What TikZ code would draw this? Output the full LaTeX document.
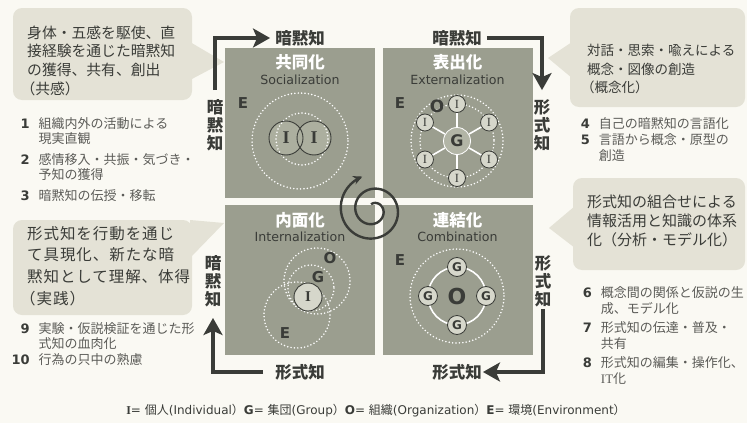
\documentclass[tikz,border=0pt]{standalone}
\usepackage{fontspec}
\setmainfont{DejaVu Sans}
\newfontfamily\jp{Noto Sans CJK JP}
\newfontfamily\lat{DejaVu Sans}
\newfontfamily\ser{Liberation Serif}
\usetikzlibrary{arrows.meta,positioning}

\definecolor{paper}{RGB}{250,249,243}
\definecolor{quadgray}{RGB}{155,158,143}
\definecolor{callgray}{RGB}{228,226,214}
\definecolor{ink}{RGB}{58,60,56}
\definecolor{listgray}{RGB}{92,92,88}
\definecolor{persfill}{RGB}{172,175,159}
\definecolor{lightfill}{RGB}{214,215,203}
\definecolor{hubfill}{RGB}{178,181,166}

\newcommand{\itemno}[1]{{\lat\bfseries\color{ink}#1}}
\newcommand{\lparen}{\kern-0.45em（}

\tikzset{
  quad/.style={fill=quadgray, minimum width=150pt, minimum height=150pt, inner sep=0pt},
  qtitle/.style={text=white, font=\jp\bfseries\fontsize{16.5}{18}\selectfont},
  qsub/.style={text=ink, font=\lat\fontsize{12.6}{14}\selectfont},
  letter/.style={text=ink, font=\lat\bfseries\fontsize{15}{15}\selectfont, inner sep=0pt},
  ring/.style={white, line width=1.7pt, dash pattern=on 0pt off 3.4pt, line cap=round},
  pers/.style={circle, draw=ink, line width=0.9pt, minimum size=34pt, inner sep=0pt, text=ink,
    font=\ser\bfseries\fontsize{18}{18}\selectfont},
  small/.style={circle, draw=ink, line width=0.8pt, fill=lightfill, minimum size=17pt, inner sep=0pt,
    text=ink, font=\ser\fontsize{12.5}{12.5}\selectfont},
  grp/.style={circle, draw=ink, line width=0.8pt, fill=lightfill, minimum size=19pt, inner sep=0pt,
    text=ink, font=\lat\bfseries\fontsize{12}{12}\selectfont},
  hub/.style={circle, draw=white, line width=0.8pt, fill=hubfill, minimum size=27pt, inner sep=0pt,
    text=ink, font=\lat\bfseries\fontsize{16}{16}\selectfont},
  spoke/.style={white, line width=1.6pt},
  flow/.style={ink, line width=4pt, -{Stealth[length=17pt, width=19pt, inset=4pt]}},
  knowh/.style={text=ink, font=\jp\bfseries\fontsize{16.5}{18}\selectfont, inner sep=0pt},
  knowv/.style={knowh, align=center},
  callout/.style={fill=callgray, rounded corners=9pt},
  calltext/.style={anchor=north west, inner sep=0pt, align=left, text=ink},
  listtext/.style={anchor=north west, inner sep=0pt, text=listgray},
}

\begin{document}
\begin{tikzpicture}[x=1pt, y=-1pt]
  \useasboundingbox (0,0) rectangle (747,423);
  \fill[paper] (0,0) rectangle (747,423);

  % callout boxes
  \fill[callout] (13,8) rectangle (192,100);
  \fill[callgray] (190,42) -- (224,62) -- (190,80) -- cycle;
  \fill[callout] (13,220) rectangle (192,315);
  \fill[callgray] (190,220) -- (224,223) -- (190,258) -- cycle;
  \fill[callout] (570,8) rectangle (745,107);
  \fill[callgray] (572,42) -- (548,58) -- (572,78) -- cycle;
  \fill[callout] (573,178) rectangle (745,270);
  \fill[callgray] (575,206) -- (549,228) -- (575,248) -- cycle;

  \node[calltext, font=\jp\fontsize{14.8}{18.7}\selectfont] (soc-note) at (27,25.3)
    {身体・五感を駆使、直\\接経験を通じた暗黙知\\の獲得、共有、創出\\\lparen 共感）};
  \node[calltext, font=\jp\fontsize{15.5}{21.7}\selectfont\addfontfeature{LetterSpace=6}] (int-note) at (27,226)
    {形式知を行動を通じ\\て具現化、新たな暗\\黙知として理解、体得\\\lparen 実践）};
  \node[calltext, font=\jp\fontsize{13.5}{18.5}\selectfont] (ext-note) at (587,44)
    {対話・思索・喩えによる\\概念・図像の創造\\\lparen 概念化）};
  \node[calltext, font=\jp\fontsize{15}{19}\selectfont] (com-note) at (587,195)
    {形式知の組合せによる\\情報活用と知識の体系\\化（分析・モデル化）};

  % lists
  \node[listtext, font=\jp\fontsize{13}{15}\selectfont] (soc-list) at (20.5,117.4) {%
    \begin{tabular}{@{}r@{\hspace{9pt}}l@{}}
      \itemno{1} & 組織内外の活動による\\
                 & 現実直観\\[5pt]
      \itemno{2} & 感情移入・共振・気づき・\\
                 & 予知の獲得\\[5pt]
      \itemno{3} & 暗黙知の伝授・移転
    \end{tabular}};
  \node[listtext, font=\jp\fontsize{13}{16}\selectfont] (ext-list) at (580.7,117.4) {%
    \begin{tabular}{@{}r@{\hspace{9pt}}l@{}}
      \itemno{4} & 自己の暗黙知の言語化\\
      \itemno{5} & 言語から概念・原型の\\
                 & 創造
    \end{tabular}};
  \node[listtext, font=\jp\fontsize{13}{16}\selectfont] (com-list) at (582.7,286.4) {%
    \begin{tabular}{@{}r@{\hspace{9pt}}l@{}}
      \itemno{6} & 概念間の関係と仮説の生\\
                 & 成、モデル化\\[3pt]
      \itemno{7} & 形式知の伝達・普及・\\
                 & 共有\\[3pt]
      \itemno{8} & 形式知の編集・操作化、\\
                 & {\ser IT}化
    \end{tabular}};
  \node[listtext, font=\jp\fontsize{13}{14.5}\selectfont] (int-list) at (11.4,322.4) {%
    \begin{tabular}{@{}r@{\hspace{9pt}}l@{}}
      \itemno{9}  & 実験・仮説検証を通じた形\\
                  & 式知の血肉化\\
      \itemno{10} & 行為の只中の熟慮
    \end{tabular}};

  % quadrants
  \node[quad] (soc) at (300,123) {};
  \node[quad] (ext) at (457.5,123) {};
  \node[quad] (int) at (300,280) {};
  \node[quad] (com) at (457.5,280) {};

  \node[qtitle] (soc-t) at (300,62) {共同化};
  \node[qsub] (soc-s) at (300,80) {Socialization};
  \node[qtitle] (ext-t) at (457.5,62) {表出化};
  \node[qsub] (ext-s) at (457.5,80) {Externalization};
  \node[qtitle] (int-t) at (300,220) {内面化};
  \node[qsub] (int-s) at (300,237) {Internalization};
  \node[qtitle] (com-t) at (457.5,220) {連結化};
  \node[qsub] (com-s) at (457.5,237) {Combination};

  % socialization
  \node[letter] (soc-e) at (243,103) {E};
  \fill[persfill] (286,138) circle (17) (314,138) circle (17);
  \draw[ring] (300,141) circle (48);
  \draw[ring] (302,139) circle (26);
  \node[pers] (soc-i1) at (286,138) {I};
  \node[pers] (soc-i2) at (314,138) {I};

  % externalization
  \node[letter] (ext-e) at (400,103) {E};
  \draw[ring] (457,141) circle (46);
  \draw[ring] (457,141) circle (37);
  \node[hub] (ext-g) at (457,141) {G};
  \foreach \a [count=\k] in {-90,-30,30,90,150,210}
    \node[small] (ext-i\k) at ([shift={(\a:37)}]ext-g.center) {I};
  \foreach \k in {1,...,6}
    \draw[spoke] (ext-g) -- (ext-i\k);
  \node[letter, font=\lat\bfseries\fontsize{17}{17}\selectfont] (ext-o) at (437,106) {O};

  % combination
  \node[letter] (com-e) at (400,260) {E};
  \coordinate (com-c) at (457,296);
  \draw[ring] (com-c) circle (47);
  \draw[white, line width=1.6pt] (com-c) circle (29);
  \foreach \a [count=\k] in {-90,0,90,180}
    \node[grp] (com-g\k) at ([shift={(\a:29)}]com-c) {G};
  \node[letter, font=\lat\bfseries\fontsize{22}{22}\selectfont] (com-o) at (com-c) {O};

  % internalization
  \draw[ring] (317,281) circle (33);
  \draw[ring] (311,288) circle (23);
  \draw[ring] (297,315) circle (33);
  \node[pers, fill=lightfill, minimum size=28pt, font=\ser\bfseries\fontsize{15}{15}\selectfont] (int-i) at (308,297) {I};
  \node[letter] (int-o) at (330,258) {O};
  \node[letter] (int-g) at (318,277) {G};
  \node[letter] (int-e) at (285,333) {E};

  % spiral
  \begin{scope}[shift={(373,210)}]
    \draw[ink, line width=2.4pt, -{Stealth[length=9pt, width=9pt]}]
      plot[domain=-468:252, samples=200, smooth] (\x:{6+(\x+468)*0.0403});
  \end{scope}

  % knowledge flow
  \node[knowh] (soc-out) at (300,38) {暗黙知};
  \node[knowv] (soc-in) at (215,125) {暗\\黙\\知};
  \node[knowh] (ext-in) at (457,38) {暗黙知};
  \node[knowv] (ext-out) at (542,125) {形\\式\\知};
  \node[knowv] (com-in) at (543,281) {形\\式\\知};
  \node[knowh] (com-out) at (457,372) {形式知};
  \node[knowh] (int-in) at (300,372) {形式知};
  \node[knowv] (int-out) at (213,281) {暗\\黙\\知};

  \draw[flow, shorten <=9pt, shorten >=5pt] (soc-in.north) |- (soc-out.west);
  \draw[flow, shorten <=5pt, shorten >=9pt] (ext-in.east) -| (ext-out.north);
  \draw[flow, shorten <=2pt, shorten >=1pt] (com-in.south) |- (com-out.east);
  \draw[flow, shorten <=12pt, shorten >=11pt] (int-in.west) -| (int-out.south);

  % legend
  \node[text=ink, font=\lat\fontsize{12}{14}\selectfont] (legend) at (376,411)
    {{\ser\bfseries I}= {\jp 個人}(Individual{\jp ）}\textbf{G}= {\jp 集団}(Group{\jp ）}\textbf{O}=
     {\jp 組織}(Organization{\jp ）}\textbf{E}= {\jp 環境}(Environment{\jp ）}};
\end{tikzpicture}
\end{document}
